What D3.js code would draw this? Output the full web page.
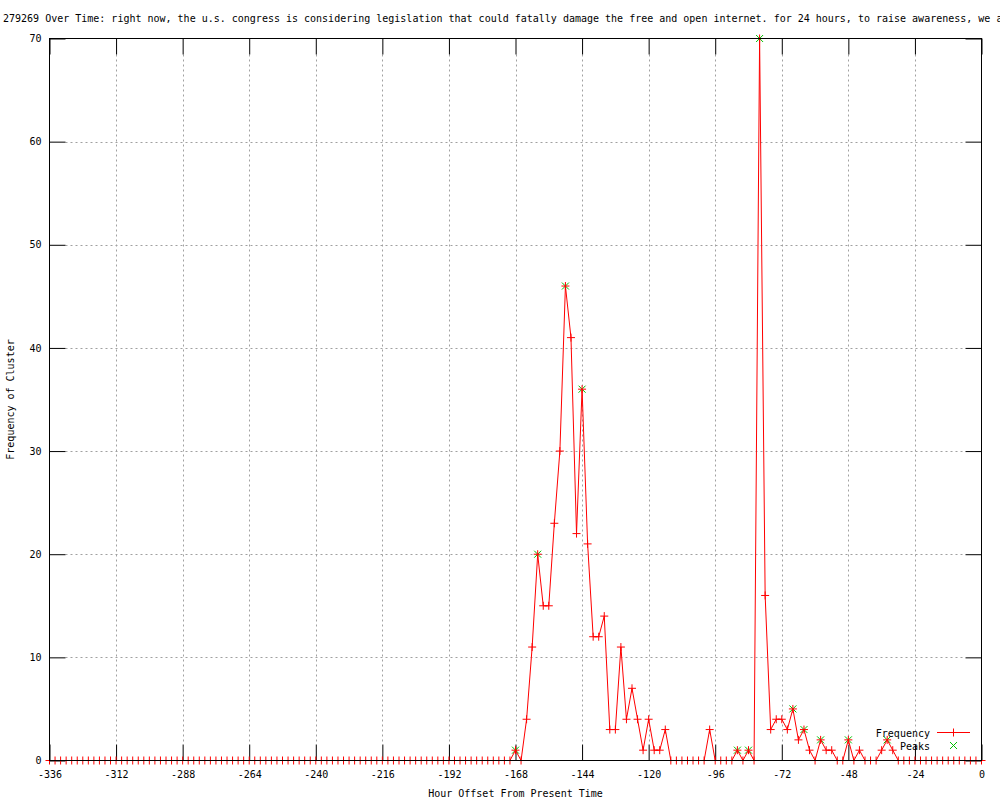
<!DOCTYPE html>
<html>
<head>
<meta charset="utf-8">
<script src="https://cdn.jsdelivr.net/npm/d3@7"></script>
<style>
  body { margin: 0; background: #fff; }
  svg text { font-family: "DejaVu Sans Mono", monospace; font-size: 10px; fill: #000; }
</style>
</head>
<body>
<div id="cluster-chart"></div>
<script>
var titleText = "279269 Over Time: right now, the u.s. congress is considering legislation that could fatally damage the free and open internet. for 24 hours, to raise awareness, we are";

// one value every 2 hours, one row per day (starting -336, -312, ... , 0)
var hours = d3.range(-336, 1, 2);
var frequency = [
  0, 0, 0, 0, 0, 0, 0, 0, 0, 0, 0, 0,
  0, 0, 0, 0, 0, 0, 0, 0, 0, 0, 0, 0,
  0, 0, 0, 0, 0, 0, 0, 0, 0, 0, 0, 0,
  0, 0, 0, 0, 0, 0, 0, 0, 0, 0, 0, 0,
  0, 0, 0, 0, 0, 0, 0, 0, 0, 0, 0, 0,
  0, 0, 0, 0, 0, 0, 0, 0, 0, 0, 0, 0,
  0, 0, 0, 0, 0, 0, 0, 0, 0, 0, 0, 0,
  1, 0, 4, 11, 20, 15, 15, 23, 30, 46, 41, 22,
  36, 21, 12, 12, 14, 3, 3, 11, 4, 7, 4, 1,
  4, 1, 1, 3, 0, 0, 0, 0, 0, 0, 0, 3,
  0, 0, 0, 0, 1, 0, 1, 0, 70, 16, 3, 4,
  4, 3, 5, 2, 3, 1, 0, 2, 1, 1, 0, 0,
  2, 0, 1, 0, 0, 0, 1, 2, 1, 0, 0, 0,
  0, 0, 0, 0, 0, 0, 0, 0, 0, 0, 0, 0,
  0
];
var peakHours = [-168, -160, -150, -144, -88, -84, -80, -68, -64, -58, -48, -34];
var peakValues = [1, 20, 46, 36, 1, 1, 70, 5, 3, 2, 2, 2];

var xTicks = [-336, -312, -288, -264, -240, -216, -192, -168, -144, -120, -96, -72, -48, -24, 0];
var yTicks = [0, 10, 20, 30, 40, 50, 60, 70];

var data = hours.map(function(h, i) { return {hour: h, value: frequency[i]}; });
var peaks = peakHours.map(function(h, i) { return {hour: h, value: peakValues[i]}; });

var plotLeft = 49.5, plotRight = 981.5, plotTop = 38.5, plotBottom = 760.5, tickLen = 16;

var svg = d3.select("#cluster-chart")
  .append("svg")
    .attr("width", 1000)
    .attr("height", 800);

var x = d3.scaleLinear().domain([-336, 0]).range([plotLeft, plotRight]);
var y = d3.scaleLinear().domain([0, 70]).range([plotBottom, plotTop]);

svg.append("text")
    .attr("x", 3)
    .attr("y", 22)
    .text(titleText);

// grid
svg.append("g").selectAll("line")
  .data(xTicks.filter(function(d) { return d > -336 && d < 0; }))
  .enter().append("line")
    .attr("x1", function(d) { return Math.round(x(d)) + 0.5; })
    .attr("x2", function(d) { return Math.round(x(d)) + 0.5; })
    .attr("y1", plotTop + tickLen)
    .attr("y2", plotBottom - tickLen)
    .attr("stroke", "#a0a0a0")
    .attr("stroke-dasharray", "2,3");

svg.append("g").selectAll("line")
  .data(yTicks.filter(function(d) { return d > 0 && d < 70; }))
  .enter().append("line")
    .attr("y1", function(d) { return Math.round(y(d)) + 0.5; })
    .attr("y2", function(d) { return Math.round(y(d)) + 0.5; })
    .attr("x1", plotLeft + tickLen)
    .attr("x2", plotRight - tickLen)
    .attr("stroke", "#a0a0a0")
    .attr("stroke-dasharray", "2,3");

// axes
var fmt = function(d) { return String(d); };

var xAxis = svg.append("g")
    .attr("transform", "translate(0," + plotBottom + ")")
    .call(d3.axisBottom(x).tickValues(xTicks).tickSize(-tickLen).tickPadding(10).tickFormat(fmt));
var xTopAxis = svg.append("g")
    .attr("transform", "translate(0," + plotTop + ")")
    .call(d3.axisTop(x).tickValues(xTicks).tickSize(-tickLen).tickFormat(""));
var yAxis = svg.append("g")
    .attr("transform", "translate(" + plotLeft + ",0)")
    .call(d3.axisLeft(y).tickValues(yTicks).tickSize(-tickLen).tickPadding(8).tickFormat(fmt));
var yRightAxis = svg.append("g")
    .attr("transform", "translate(" + plotRight + ",0)")
    .call(d3.axisRight(y).tickValues(yTicks).tickSize(-tickLen).tickFormat(""));

[xAxis, xTopAxis, yAxis, yRightAxis].forEach(function(g) {
  g.select(".domain").remove();
  g.selectAll("line").attr("stroke", "#000");
  g.selectAll("text")
    .style("font-family", "DejaVu Sans Mono, monospace")
    .style("font-size", "10px")
    .attr("fill", "#000");
});

svg.append("text")
    .attr("transform", "translate(14," + ((plotTop + plotBottom) / 2) + ")rotate(-90)")
    .style("text-anchor", "middle")
    .text("Frequency of Cluster");

svg.append("text")
    .attr("x", (plotLeft + plotRight) / 2)
    .attr("y", 797)
    .style("text-anchor", "middle")
    .text("Hour Offset From Present Time");

var plus = "M-4,0H4M0,-4V4";
var cross = "M-3.5,-3.5L3.5,3.5M-3.5,3.5L3.5,-3.5";

// peaks (underneath the red series, like the reference)
svg.append("g").selectAll("path")
  .data(peaks)
  .enter().append("path")
    .attr("transform", function(d) { return "translate(" + x(d.hour) + "," + y(d.value) + ")"; })
    .attr("d", cross)
    .attr("stroke", "#00c000")
    .attr("fill", "none");

// frequency line
var line = d3.line()
    .x(function(d) { return x(d.hour); })
    .y(function(d) { return y(d.value); });

svg.append("path")
    .datum(data)
    .attr("fill", "none")
    .attr("stroke", "#ff0000")
    .attr("stroke-width", 1)
    .attr("d", line);

svg.append("g").selectAll("path")
  .data(data)
  .enter().append("path")
    .attr("transform", function(d) { return "translate(" + x(d.hour) + "," + y(d.value) + ")"; })
    .attr("d", plus)
    .attr("stroke", "#ff0000")
    .attr("fill", "none");

// border
svg.append("rect")
    .attr("x", plotLeft)
    .attr("y", plotTop)
    .attr("width", plotRight - plotLeft)
    .attr("height", plotBottom - plotTop)
    .attr("fill", "none")
    .attr("stroke", "#000");

// legend
svg.append("text")
    .attr("x", 930)
    .attr("y", 737)
    .style("text-anchor", "end")
    .text("Frequency");
svg.append("line")
    .attr("x1", 937).attr("x2", 970)
    .attr("y1", 732.5).attr("y2", 732.5)
    .attr("stroke", "#ff0000");
svg.append("path")
    .attr("transform", "translate(953.5,732.5)")
    .attr("d", plus)
    .attr("stroke", "#ff0000");

svg.append("text")
    .attr("x", 930)
    .attr("y", 750)
    .style("text-anchor", "end")
    .text("Peaks");
svg.append("path")
    .attr("transform", "translate(953.5,745.5)")
    .attr("d", cross)
    .attr("stroke", "#00c000");
</script>
</body>
</html>
